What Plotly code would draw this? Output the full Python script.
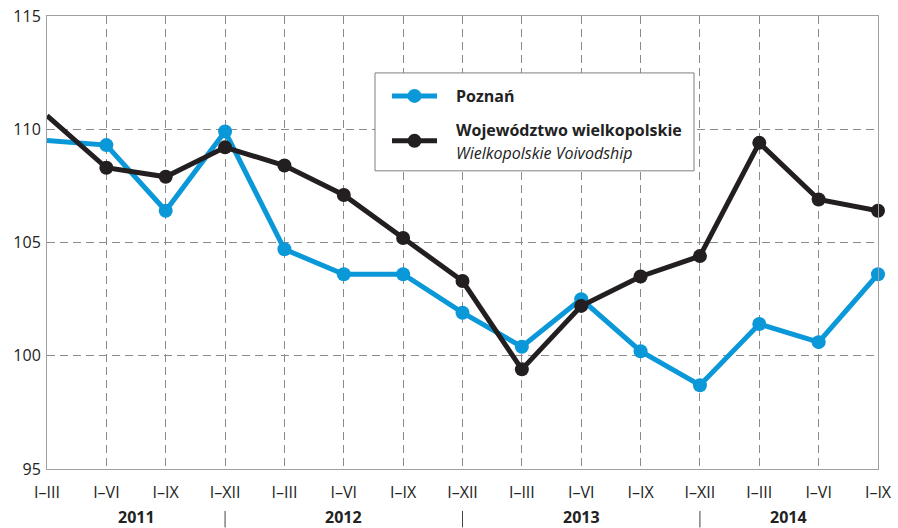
import plotly.graph_objects as go

periods = ["I–III", "I–VI", "I–IX", "I–XII",
           "I–III", "I–VI", "I–IX", "I–XII",
           "I–III", "I–VI", "I–IX", "I–XII",
           "I–III", "I–VI", "I–IX"]
years = ["2011", "2012", "2013", "2014"]

poznan = [109.5, 109.3, 106.4, 109.9, 104.7, 103.6, 103.6, 101.9,
          100.4, 102.5, 100.2, 98.7, 101.4, 100.6, 103.6]
wojewodztwo = [110.6, 108.3, 107.9, 109.2, 108.4, 107.1, 105.2, 103.3,
               99.4, 102.2, 103.5, 104.4, 109.4, 106.9, 106.4]

label_poznan = "Poznań"
label_woj = "Województwo wielkopolskie"
label_woj_en = "Wielkopolskie Voivodship"

FONT = "Open Sans"
BLUE = "#0a98d8"
BLACK = "#231f20"
GRID = "#8a8a8a"
TXT = "#222222"

x = list(range(len(periods)))
msize = [0] + [14] * (len(periods) - 1)

fig = go.Figure()
for vals, col, nm in [(poznan, BLUE, label_poznan), (wojewodztwo, BLACK, label_woj)]:
    fig.add_trace(go.Scatter(
        x=x, y=vals, name=nm, mode="lines+markers",
        line=dict(color=col, width=5),
        marker=dict(color=col, size=msize, opacity=1, line=dict(width=0)),
        cliponaxis=False, showlegend=False,
    ))

# ---- legend (box, samples, texts) in paper coordinates ----
PX0, PW, PY1, PH = 47, 831, 469.5, 453.5
def px(v):
    return (v - PX0) / PW
def py(v):
    return (PY1 - v) / PH

fig.add_shape(type="rect", xref="paper", yref="paper",
              x0=px(375), x1=px(694), y0=py(171), y1=py(73),
              line=dict(color="#7f7f7f", width=1), fillcolor="white", layer="above")
for ycen, col in [(96, BLUE), (141, BLACK)]:
    fig.add_shape(type="line", xref="paper", yref="paper",
                  x0=px(392), x1=px(437), y0=py(ycen), y1=py(ycen),
                  line=dict(color=col, width=5), layer="above")
    fig.add_shape(type="circle", xref="paper", yref="paper",
                  xsizemode="pixel", ysizemode="pixel",
                  xanchor=px(414.5), yanchor=py(ycen),
                  x0=-7, x1=7, y0=-7, y1=7,
                  line=dict(width=0), fillcolor=col, layer="above")
for txt, ycen in [(f"<b>{label_poznan}</b>", 96), (f"<b>{label_woj}</b>", 130),
                  (f"<i>{label_woj_en}</i>", 153)]:
    fig.add_annotation(x=px(454), y=py(ycen), xref="paper", yref="paper", text=txt,
                       showarrow=False, xanchor="left", yanchor="middle",
                       font=dict(family=FONT, size=16, color=TXT))

# ---- year labels centred between group boundaries (boundaries at I–XII) ----
year_centres = [1.5, 5.0, 9.0, 12.5]
for yr, xc in zip(years, year_centres):
    fig.add_annotation(x=xc, y=py(517.5), xref="x", yref="paper", text=f"<b>{yr}</b>",
                       showarrow=False, font=dict(family=FONT, size=16, color=TXT),
                       xanchor="center", yanchor="middle")
for xb in [3, 7, 11]:
    fig.add_shape(type="line", xref="x", yref="paper", x0=xb, x1=xb,
                  y0=py(511.5), y1=py(528),
                  line=dict(color="#444", width=1))

fig.update_layout(
    width=898, height=528,
    margin=dict(l=47, r=20, t=16, b=58.5, autoexpand=False),
    paper_bgcolor="white", plot_bgcolor="white",
    font=dict(family=FONT, size=15, color=TXT),
    showlegend=False,
    xaxis=dict(
        range=[0, 14], tickmode="array", tickvals=x, ticktext=periods,
        showgrid=True, gridcolor=GRID, griddash="8px,5px", gridwidth=1,
        showline=True, linecolor="#a0a0a0", linewidth=1, mirror=True,
        ticks="", zeroline=False, tickfont=dict(size=16, color=TXT),
        ticklabelstandoff=9, automargin=False,
    ),
    yaxis=dict(
        range=[95, 115], tickmode="linear", tick0=95, dtick=5,
        showgrid=True, gridcolor=GRID, griddash="8px,5px", gridwidth=1,
        showline=True, linecolor="#a0a0a0", linewidth=1, mirror=True,
        ticks="", zeroline=False, tickfont=dict(size=16, color=TXT),
        ticklabelstandoff=2, automargin=False,
    ),
)

fig.write_html("out.html", config={"displayModeBar": False},
               post_script="document.body.style.margin='0';document.body.style.overflow='hidden';")
